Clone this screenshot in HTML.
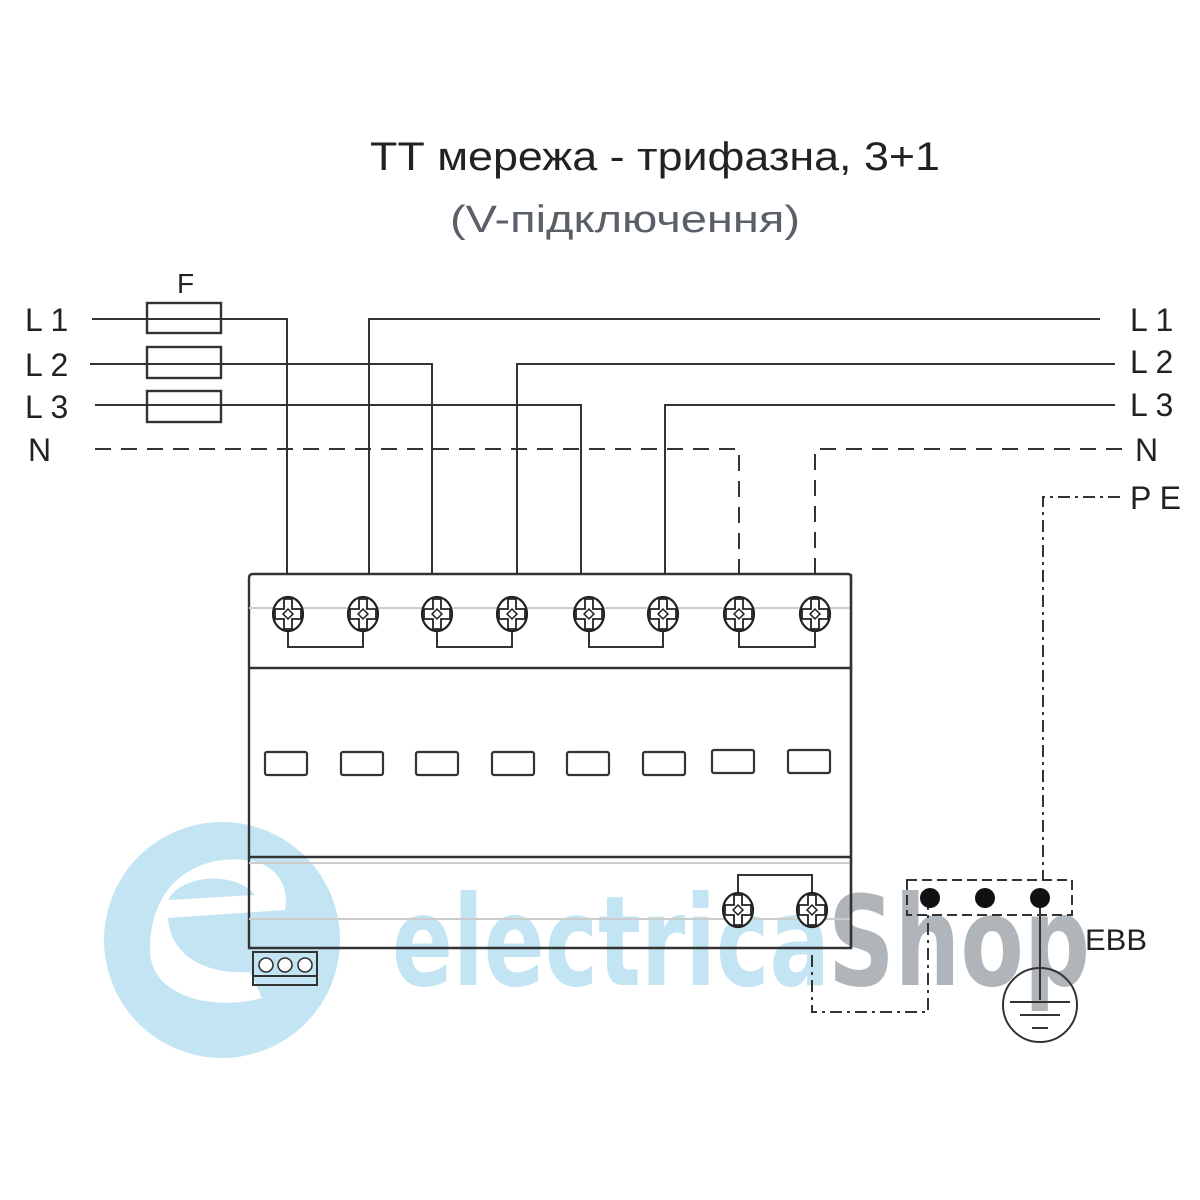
<!DOCTYPE html>
<html><head><meta charset="utf-8"><style>
html,body{margin:0;padding:0;background:#fff;}
svg{display:block;}
</style></head><body>
<svg width="1200" height="1200" viewBox="0 0 1200 1200" xmlns="http://www.w3.org/2000/svg">
<defs>
<g id="scr">
<ellipse cx="0" cy="0" rx="15" ry="17" fill="#fff" stroke="#222" stroke-width="2.2"/>
<path d="M-4,-15 V-5 H-13 V5 H-4 V15 H4 V5 H13 V-5 H4 V-15 Z" fill="none" stroke="#222" stroke-width="1.8"/>
<rect x="-3.5" y="-3.5" width="7" height="7" transform="rotate(45)" fill="#fff" stroke="#222" stroke-width="1.5"/>
</g>
</defs>
<!-- watermark -->
<g opacity="0.85">
<circle cx="222" cy="940" r="118" fill="#b9e0f2"/>
<path d="M150,950 C150,880 200,855 245,860 C275,862 290,885 285,910 L168,918 C170,955 205,975 250,972 L262,998 C210,1012 150,995 150,950 Z" fill="#fff"/>
<path d="M168,900 C180,875 235,870 255,895 Z" fill="#b9e0f2"/>
</g>
<text x="392" y="985" font-family="DejaVu Sans, sans-serif" font-weight="bold" font-size="125" fill="#b9e0f2" opacity="0.85" textLength="438" lengthAdjust="spacingAndGlyphs">electrica</text>
<text x="828" y="985" font-family="DejaVu Sans, sans-serif" font-weight="bold" font-size="125" fill="#a8adb3" opacity="0.9" textLength="262" lengthAdjust="spacingAndGlyphs">Shop</text>

<!-- titles -->
<text x="370" y="170" font-family="Liberation Sans, sans-serif" font-size="40" fill="#222" textLength="570" lengthAdjust="spacingAndGlyphs">ТТ мережа - трифазна, 3+1</text>
<text x="450" y="232" font-family="Liberation Sans, sans-serif" font-size="38" fill="#5a6068" textLength="350" lengthAdjust="spacingAndGlyphs">(V-підключення)</text>

<g font-family="Liberation Sans, sans-serif" font-size="32" fill="#222">
<text x="177" y="293" font-size="28">F</text>
<text x="25" y="331">L 1</text>
<text x="25" y="376">L 2</text>
<text x="25" y="418">L 3</text>
<text x="28" y="461">N</text>
<text x="1130" y="331">L 1</text>
<text x="1130" y="373">L 2</text>
<text x="1130" y="416">L 3</text>
<text x="1135" y="461">N</text>
<text x="1130" y="509">P E</text>
<text x="1085" y="950" font-size="30" textLength="62" lengthAdjust="spacingAndGlyphs">EBB</text>
</g>

<g stroke="#333" stroke-width="2" fill="none">
<rect x="147" y="303" width="74" height="30" stroke-width="2.4"/>
<rect x="147" y="347" width="74" height="31" stroke-width="2.4"/>
<rect x="147" y="391" width="74" height="31" stroke-width="2.4"/>
<path d="M92,319 H287 V574"/>
<path d="M90,364 H432 V574"/>
<path d="M95,405 H581 V574"/>
<path d="M369,574 V319 H1100"/>
<path d="M517,574 V364 H1115"/>
<path d="M665,574 V405 H1115"/>
<path d="M95,449 H739 V574" stroke-dasharray="16,10"/>
<path d="M815,574 V449 H1125" stroke-dasharray="16,10"/>
<path d="M1120,497 H1043 V880" stroke-dasharray="12,5,3,5"/>
<path d="M253,574 H848 Q851,574 851,578 V948 H249 V578 Q249,574 253,574 Z" stroke="#333" stroke-width="2.4"/>
<line x1="249" y1="608" x2="851" y2="608" stroke="#ccc"/>
<line x1="249" y1="668" x2="851" y2="668" stroke-width="2.4"/>
<line x1="249" y1="857" x2="851" y2="857" stroke-width="2.4"/>
<line x1="249" y1="863" x2="851" y2="863" stroke="#ccc"/>
<line x1="249" y1="919" x2="851" y2="919" stroke="#ccc"/>
<line x1="851" y1="574" x2="851" y2="948" stroke-width="2.4"/>
<path d="M288,630 V647 H363 V630"/>
<path d="M437,630 V647 H512 V630"/>
<path d="M589,630 V647 H663 V630"/>
<path d="M739,630 V647 H815 V630"/>
<path d="M738,893 V875 H812 V893"/>
<g stroke="#333" stroke-width="2.2">
<rect x="265" y="752" width="42" height="23" rx="2"/>
<rect x="341" y="752" width="42" height="23" rx="2"/>
<rect x="416" y="752" width="42" height="23" rx="2"/>
<rect x="492" y="752" width="42" height="23" rx="2"/>
<rect x="567" y="752" width="42" height="23" rx="2"/>
<rect x="643" y="752" width="42" height="23" rx="2"/>
<rect x="712" y="750" width="42" height="23" rx="2"/>
<rect x="788" y="750" width="42" height="23" rx="2"/>
</g>
<rect x="253" y="952" width="64" height="33" stroke-width="2"/>
<line x1="253" y1="976" x2="317" y2="976"/>
<rect x="907" y="880" width="165" height="35" stroke-dasharray="10,5"/>
<path d="M928,898 V1012 H812 V950" stroke-dasharray="12,5,3,5"/>
<line x1="1040" y1="898" x2="1040" y2="1000"/>
<circle cx="1040" cy="1005" r="37"/>
<line x1="1010" y1="1002" x2="1070" y2="1002"/>
<line x1="1020" y1="1015" x2="1060" y2="1015"/>
<line x1="1032" y1="1028" x2="1048" y2="1028"/>
</g>
<g fill="#111">
<circle cx="930" cy="898" r="10"/>
<circle cx="985" cy="898" r="10"/>
<circle cx="1040" cy="898" r="10"/>
</g>
<g fill="#fff" stroke="#333" stroke-width="1.6">
<circle cx="266" cy="965" r="7"/><circle cx="285" cy="965" r="7"/><circle cx="305" cy="965" r="7"/>
</g>
<use href="#scr" x="288" y="614"/>
<use href="#scr" x="363" y="614"/>
<use href="#scr" x="437" y="614"/>
<use href="#scr" x="512" y="614"/>
<use href="#scr" x="589" y="614"/>
<use href="#scr" x="663" y="614"/>
<use href="#scr" x="739" y="614"/>
<use href="#scr" x="815" y="614"/>
<use href="#scr" x="738" y="910"/>
<use href="#scr" x="812" y="910"/>
</svg>
</body></html>
